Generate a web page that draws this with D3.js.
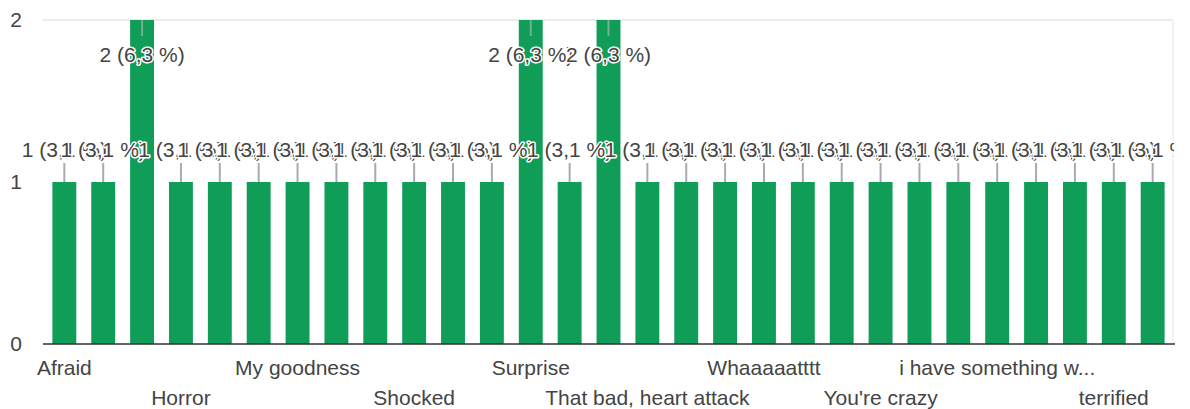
<!DOCTYPE html>
<html><head><meta charset="utf-8">
<script src="https://cdn.jsdelivr.net/npm/d3@7"></script>
<style>
body{margin:0;background:#fff;}
text{font-family:"Liberation Sans",Arial,sans-serif;}
</style>
</head><body>
<svg id="chart" width="1190" height="409"></svg>
<script>
// ---- data ----
const categories = [
  "Afraid","Amazed","Fear","Horror","Horrified","Look","My goodness","No way","Oh my God",
  "Shocked","Speechless","Sudden","Surprise","Surprised","Terrified","That bad, heart attack",
  "Unbelievable","WTF","Whaaaaatttt","What?","Wow","You're crazy","amazed","disgust",
  "i have something w...","scared","shock","terrified","wow"
];
const values = [1,1,2,1,1,1,1,1,1, 1,1,1,2,1,2,1, 1,1,1,1,1,1,1,1, 1,1,1,1,1];
const totalResponses = 32;
const yTicks = [0,1,2];

// ---- layout ----
const W = 1190, H = 409;
const plot = {left:43, right:1173, top:20, bottom:344};
const svg = d3.select("#chart");

const x = d3.scaleBand().domain(categories).range([plot.left + 2, plot.right - 1]).paddingInner(0.385).paddingOuter(0.19);
const y = d3.scaleLinear().domain([0, 2]).range([plot.bottom, plot.top]);

// frame / gridlines
svg.append("line").attr("x1", plot.left).attr("x2", plot.right).attr("y1", y(2)).attr("y2", y(2))
  .attr("stroke", "#ebebeb").attr("stroke-width", 2);
svg.append("line").attr("x1", plot.right).attr("x2", plot.right).attr("y1", y(2)).attr("y2", plot.bottom)
  .attr("stroke", "#f2f2f2").attr("stroke-width", 2);

// bars
svg.append("g").selectAll("rect").data(values).join("rect")
  .attr("x", (d,i) => x(categories[i]))
  .attr("width", x.bandwidth())
  .attr("y", d => y(d))
  .attr("height", d => y(0) - y(d))
  .attr("fill", "#0f9d58");

// baseline
svg.append("line").attr("x1", plot.left).attr("x2", plot.right + 2).attr("y1", y(0)).attr("y2", y(0))
  .attr("stroke", "#333").attr("stroke-width", 1.5);

// y axis
const yAxis = d3.axisLeft(y).tickValues(yTicks).tickSize(0).tickPadding(21).tickFormat(d3.format("d"));
const yg = svg.append("g").attr("transform", `translate(${plot.left},0)`).call(yAxis);
yg.select(".domain").remove();
yg.selectAll("text").attr("font-size", 21).attr("fill", "#444").style("font-family", '"Liberation Sans",Arial,sans-serif');

// x axis (every third category, staggered)
const shown = categories.filter((c,i) => i % 3 === 0);
const xAxis = d3.axisBottom(x).tickValues(shown).tickSize(0).tickPadding(0);
const xg = svg.append("g").attr("transform", `translate(0,${plot.bottom})`).call(xAxis);
xg.select(".domain").remove();
xg.selectAll("text")
  .attr("font-size", 21).attr("fill", "#444")
  .style("font-family", '"Liberation Sans",Arial,sans-serif')
  .attr("dy", null)
  .attr("y", d => (categories.indexOf(d) / 3) % 2 === 0 ? 31 : 61);

// annotations (value labels with stems), clipped to chart width
svg.append("clipPath").attr("id", "annClip").append("rect")
  .attr("x", 0).attr("y", 0).attr("width", plot.right + 1).attr("height", H);
const ann = svg.append("g").attr("clip-path", "url(#annClip)");
const fmtPct = v => (v / totalResponses * 100).toFixed(1).replace(".", ",");
values.forEach((v, i) => {
  const cx = x(categories[i]) + x.bandwidth() / 2;
  const top = y(v);
  const inside = top - 45 < plot.top;
  const g = ann.append("g");
  if (inside) {
    g.append("line").attr("x1", cx).attr("x2", cx).attr("y1", top).attr("y2", top + 16)
      .attr("stroke", "#bbb").attr("stroke-opacity", 0.6).attr("stroke-width", 2);
  } else {
    g.append("line").attr("x1", cx).attr("x2", cx).attr("y1", top - 19).attr("y2", top)
      .attr("stroke", "#aaa").attr("stroke-width", 2);
  }
  g.append("text")
    .attr("x", cx)
    .attr("y", inside ? top + 42 : top - 25)
    .attr("text-anchor", "middle")
    .attr("font-size", 21)
    .attr("fill", "#444")
    .attr("stroke", "#fff").attr("stroke-width", 3).attr("stroke-linejoin", "round")
    .attr("paint-order", "stroke")
    .text(`${v} (${fmtPct(v)} %)`);
});
</script>
</body></html>
